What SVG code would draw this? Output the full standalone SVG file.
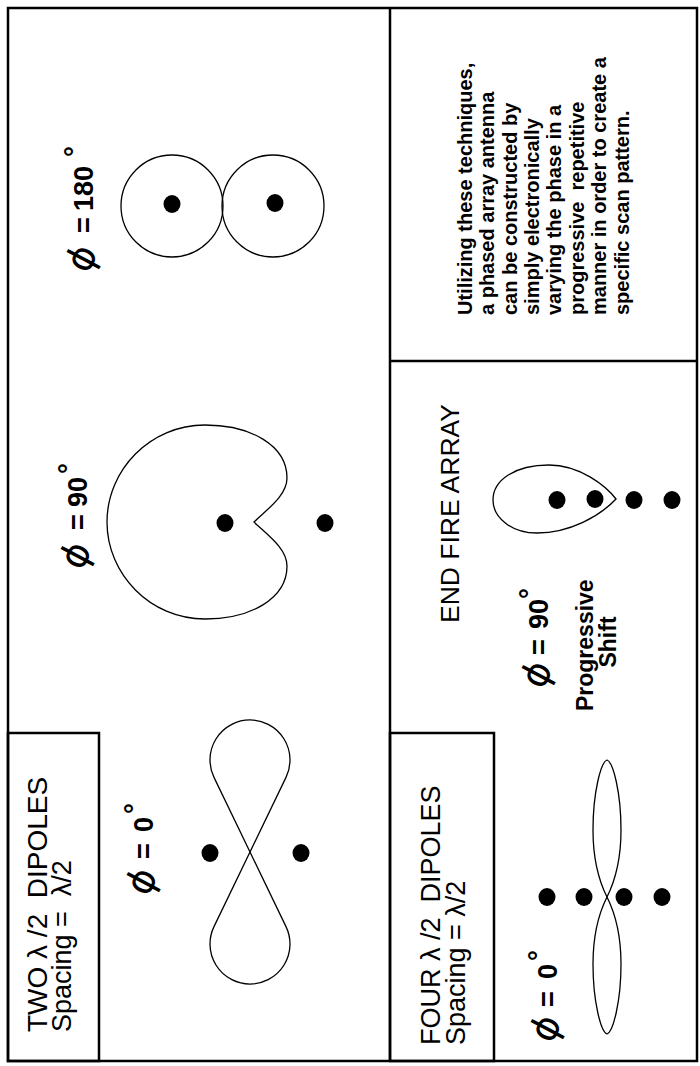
<svg xmlns="http://www.w3.org/2000/svg" width="700" height="1066" viewBox="0 0 700 1066">
<style>
.frame{fill:none;stroke:#000;stroke-width:2.5}
.pat{fill:none;stroke:#000;stroke-width:1.3}
.dot{fill:#000}
text{font-family:"Liberation Sans",Arial,sans-serif;fill:#000}
.lbl{font-size:27px;font-weight:bold}
.phi{font-family:"DejaVu Sans",sans-serif;font-size:38px;font-weight:normal}
.ttl{font-size:27px}
.body{font-size:20px;font-weight:bold}
.prog{font-size:23px;font-weight:bold}
</style>
<rect width="700" height="1066" fill="#fff"/>
<g id="frame">
<rect class="frame" x="8" y="8" width="689" height="1053"/>
<line class="frame" x1="390" y1="8" x2="390" y2="1061"/>
<line class="frame" x1="390" y1="361" x2="697" y2="361"/>
</g>
<g id="panel-180">
<text class="lbl" transform="translate(93,0) rotate(-90)"><tspan class="phi" x="-275" dy="-6" rotate="28">ϕ</tspan> <tspan x="-233" y="0">=</tspan> <tspan x="-211">180</tspan><tspan x="-157" y="-9">°</tspan></text>
<circle class="pat" cx="172" cy="206" r="51"/>
<circle class="pat" cx="273" cy="206" r="51"/>
<ellipse class="dot" cx="172" cy="204" rx="8.5" ry="9"/>
<ellipse class="dot" cx="275" cy="203" rx="8.5" ry="9"/>
</g>
<g id="panel-90-two">
<text class="lbl" transform="translate(87,0) rotate(-90)"><tspan class="phi" x="-572" dy="-6" rotate="28">ϕ</tspan> <tspan x="-530" y="0">=</tspan> <tspan x="-507">90</tspan><tspan x="-474" y="-9">°</tspan></text>
<path class="pat" d="M254,522 C266,510 287,496 287,478 C287,445 250,425 205,425 C150,425 107,470 107,522 C107,574 150,619 205,619 C250,619 287,599 287,566 C287,548 266,534 254,522 Z"/>
<ellipse class="dot" cx="225" cy="523" rx="8.5" ry="9"/>
<ellipse class="dot" cx="325" cy="523" rx="8.5" ry="9"/>
</g>
<g id="panel-two-dipoles">
<rect class="frame" x="8" y="733" width="91" height="328"/>
<text class="ttl" transform="rotate(-90)"><tspan x="-1032" y="47" style="font-size:28px">TWO λ /2&#160; DIPOLES</tspan>
<tspan x="-1032" y="71">Spacing =&#160; λ/2</tspan></text>
<text class="lbl" transform="translate(153,0) rotate(-90)"><tspan class="phi" x="-898" dy="-6" rotate="28">ϕ</tspan> <tspan x="-859" y="0">=</tspan> <tspan x="-832">0</tspan><tspan x="-814" y="-9">°</tspan></text>
<path class="pat" d="M250,852 L214,777.4 A40,40 0 1 1 286,777.4 Z"/>
<path class="pat" d="M250,852 L286,926.6 A40,40 0 1 1 214,926.6 Z"/>
<ellipse class="dot" cx="210" cy="853" rx="8.5" ry="9"/>
<ellipse class="dot" cx="301" cy="853" rx="8.5" ry="9"/>
</g>
<g id="panel-note">
<text class="body" transform="rotate(-90)"><tspan x="-315" y="471.7">Utilizing these techniques,</tspan>
<tspan x="-315" y="494.1">a phased array antenna</tspan>
<tspan x="-315" y="516.5">can be constructed by</tspan>
<tspan x="-315" y="538.9">simply electronically</tspan>
<tspan x="-315" y="561.3">varying the phase in a</tspan>
<tspan x="-315" y="583.7">progressive&#160; repetitive</tspan>
<tspan x="-315" y="606.1">manner in order to create a</tspan>
<tspan x="-315" y="628.5">specific scan pattern.</tspan></text>
</g>
<g id="panel-endfire">
<text class="ttl" style="font-size:26.5px" transform="rotate(-90)" x="-623" y="459">END FIRE ARRAY</text>
<text class="lbl" transform="translate(548,0) rotate(-90)"><tspan class="phi" x="-691" dy="-6" rotate="28">ϕ</tspan> <tspan x="-655" y="0">=</tspan> <tspan x="-629">90</tspan><tspan x="-599" y="-9">°</tspan></text>
<text class="prog" transform="rotate(-90)" text-anchor="middle"><tspan x="-642" y="593">Progressive</tspan>
<tspan x="-642" y="616">Shift</tspan></text>
<path class="pat" d="M616,499 C606,486 580,465 549,465 C515,465 493,480 493,500 C493,518 512,533 537,533 C570,533 600,516 616,499 Z"/>
<ellipse class="dot" cx="557" cy="500" rx="8.5" ry="9"/>
<ellipse class="dot" cx="595" cy="499" rx="8.5" ry="9"/>
<ellipse class="dot" cx="634" cy="500" rx="8.5" ry="9"/>
<ellipse class="dot" cx="672" cy="500" rx="8.5" ry="9"/>
</g>
<g id="panel-four-dipoles">
<rect class="frame" x="390" y="733" width="104" height="328"/>
<text class="ttl" transform="rotate(-90)"><tspan x="-1045" y="440">FOUR λ /2&#160; DIPOLES</tspan>
<tspan x="-1045" y="465">Spacing = λ/2</tspan></text>
<text class="lbl" transform="translate(557,0) rotate(-90)"><tspan class="phi" x="-1045" dy="-6" rotate="28">ϕ</tspan> <tspan x="-1007" y="0">=</tspan> <tspan x="-979">0</tspan><tspan x="-961" y="-9">°</tspan></text>
<path class="pat" d="M607,897 C613,885 621,866 621,830 C621,792 613,762 607,760 C601,762 593,792 593,830 C593,866 601,885 607,897 Z"/>
<path class="pat" d="M607,897 C613,909 621,928 621,964 C621,1002 613,1032 607,1034 C601,1032 593,1002 593,964 C593,928 601,909 607,897 Z"/>
<ellipse class="dot" cx="547" cy="897" rx="8.5" ry="9"/>
<ellipse class="dot" cx="584" cy="897" rx="8.5" ry="9"/>
<ellipse class="dot" cx="624" cy="897" rx="8.5" ry="9"/>
<ellipse class="dot" cx="662" cy="897" rx="8.5" ry="9"/>
</g>
<g id="connectors"/>
</svg>
